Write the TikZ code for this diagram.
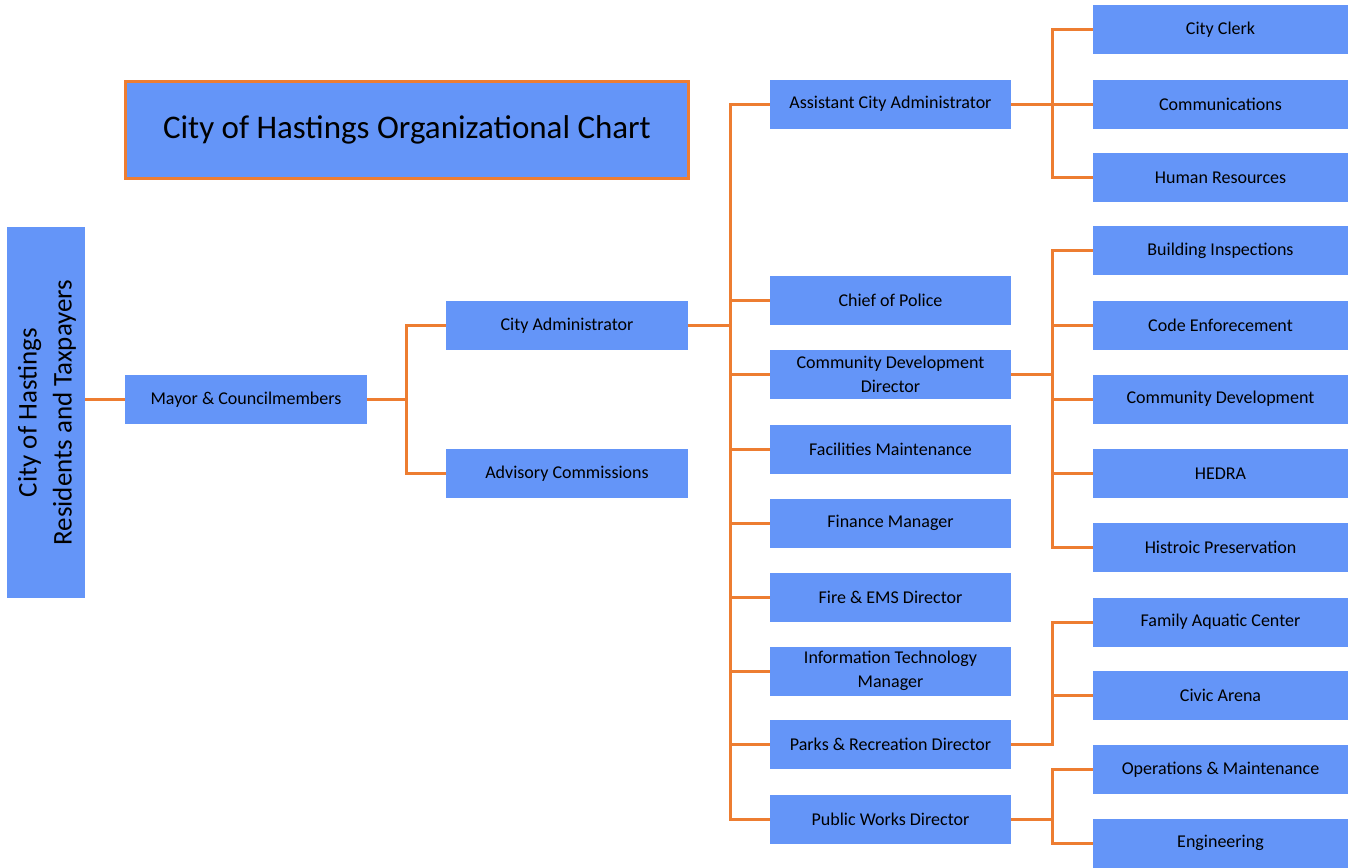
\documentclass[tikz,border=0pt]{standalone}
\usepackage{fontspec}
\setmainfont{Carlito}
\definecolor{boxblue}{HTML}{6495F8}
\definecolor{lineor}{HTML}{ED7D31}
\tikzset{
  box/.style={fill=boxblue, draw=none, minimum height=49pt, inner sep=0pt, align=center, font=\fontsize{18}{24}\selectfont},
  boxA/.style={box, minimum width=242pt},
  boxC/.style={box, minimum width=241pt},
  boxD/.style={box, minimum width=255pt},
  link/.style={draw=lineor, line width=3pt},
}
\begin{document}
\begin{tikzpicture}[x=1pt,y=-1pt]
\useasboundingbox (0,0) rectangle (1354,867);
% left box
\node[fill=boxblue, minimum width=78pt, minimum height=371pt, inner sep=0pt] (res) at (46,412.5) {};
\node[rotate=90, align=center, font=\fontsize{27}{35}\selectfont] (restext) at (47,412.5) {City of Hastings\\Residents and Taxpayers};
% title
\node[fill=boxblue, draw=lineor, line width=3pt, minimum width=563pt, minimum height=97pt, inner sep=0pt, font=\fontsize{33}{40}\selectfont] (title) at (407,130) {City of Hastings Organizational Chart};
% level 1-2
\node[boxA] (mayor) at (246,399.5) {Mayor \& Councilmembers};
\node[boxA] (cadmin) at (567,325.5) {City Administrator};
\node[boxA] (advis) at (567,473.5) {Advisory Commissions};
% level 3
\node[boxC] (asst) at (890.5,104) {Assistant City Administrator};
\node[boxC] (police) at (890.5,300) {Chief of Police};
\node[boxC] (cdd) at (890.5,374.5) {Community Development\\Director};
\node[boxC] (facil) at (890.5,449) {Facilities Maintenance};
\node[boxC] (fin) at (890.5,523) {Finance Manager};
\node[boxC] (fire) at (890.5,597) {Fire \& EMS Director};
\node[boxC] (it) at (890.5,671) {Information Technology\\Manager};
\node[boxC] (parks) at (890.5,744) {Parks \& Recreation Director};
\node[boxC] (pw) at (890.5,819) {Public Works Director};
% level 4
\node[boxD] (clerk) at (1220.5,30) {City Clerk};
\node[boxD] (comm) at (1220.5,104) {Communications};
\node[boxD] (hr) at (1220.5,177.5) {Human Resources};
\node[boxD] (build) at (1220.5,250.5) {Building Inspections};
\node[boxD] (code) at (1220.5,325) {Code Enforecement};
\node[boxD] (cdev) at (1220.5,399) {Community Development};
\node[boxD] (hedra) at (1220.5,473.5) {HEDRA};
\node[boxD] (hist) at (1220.5,547.5) {Histroic Preservation};
\node[boxD] (aqua) at (1220.5,622) {Family Aquatic Center};
\node[boxD] (arena) at (1220.5,695.5) {Civic Arena};
\node[boxD] (ops) at (1220.5,769.5) {Operations \& Maintenance};
\node[boxD] (eng) at (1220.5,843) {Engineering};
% connectors
\draw[link] (res.east |- mayor) -- (mayor.west);
\coordinate (b1) at (406,0);
\draw[link] (mayor.east) -- (b1 |- mayor);
\draw[link] (cadmin.west) -| (b1 |- cadmin) |- (advis.west);
\coordinate (b2) at (730,0);
\draw[link] (cadmin.east) -- (b2 |- cadmin);
\draw[link] (asst.west) -| (b2 |- asst) |- (pw.west);
\foreach \n in {police,cdd,facil,fin,fire,it,parks}
  \draw[link] (b2 |- \n) -- (\n.west);
\coordinate (b3) at (1052,0);
\draw[link] (asst.east) -- (b3 |- asst);
\draw[link] (clerk.west) -| (b3 |- clerk) |- (hr.west);
\draw[link] (b3 |- comm) -- (comm.west);
\draw[link] (cdd.east) -- (b3 |- cdd);
\draw[link] (build.west) -| (b3 |- build) |- (hist.west);
\foreach \n in {code,cdev,hedra}
  \draw[link] (b3 |- \n) -- (\n.west);
\draw[link] (parks.east) -| (b3 |- aqua) -- (aqua.west);
\draw[link] (b3 |- arena) -- (arena.west);
\draw[link] (pw.east) -- (b3 |- pw);
\draw[link] (ops.west) -| (b3 |- ops) |- (eng.west);
\end{tikzpicture}
\end{document}
